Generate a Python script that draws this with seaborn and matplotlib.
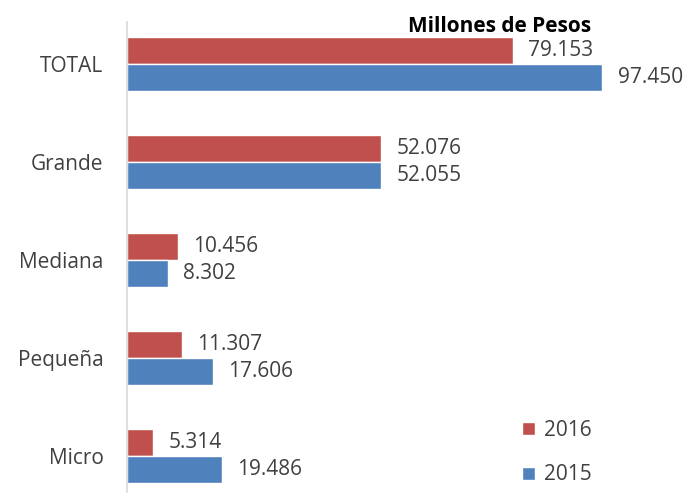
import numpy as np
import pandas as pd
import matplotlib
matplotlib.use('Agg')
import matplotlib.pyplot as plt
import seaborn as sns

# data
categorias = ['TOTAL', 'Grande', 'Mediana', 'Pequeña', 'Micro']
valores_2016 = [79.153, 52.076, 10.456, 11.307, 5.314]
valores_2015 = [97.450, 52.055, 8.302, 17.606, 19.486]
anios = ['2016', '2015']
colores = ['#C0504D', '#4F81BD']

df = pd.DataFrame({
    'categoria': categorias * 2,
    'valor': valores_2016 + valores_2015,
    'anio': ['2016'] * len(categorias) + ['2015'] * len(categorias),
})

sns.set_theme(style='white')
plt.rcParams['font.family'] = ['Open Sans', 'DejaVu Sans']

fig = plt.figure(figsize=(6.93, 4.95), dpi=100)
ax = fig.add_axes([127 / 693, 3 / 495, 1 - 127 / 693, 470 / 495])

sns.barplot(data=df, y='categoria', x='valor', hue='anio',
            hue_order=anios, palette=colores, order=categorias,
            orient='h', width=0.55, saturation=1, ax=ax)

ax.set_xlim(0, 116)
ax.set_ylim(4.37, -0.43)

# etiquetas de valor a la derecha de cada barra
for cont in ax.containers:
    ax.bar_label(cont, labels=[f'{v:.3f}' for v in cont.datavalues],
                 padding=11, fontsize=15, color='#404040')

ax.set_xlabel('')
ax.set_ylabel('')
ax.set_xticks([])
ax.tick_params(axis='y', length=0, pad=17, labelsize=15, labelcolor='#404040')
for s in ['top', 'right', 'bottom']:
    ax.spines[s].set_visible(False)
ax.spines['left'].set_color('#D9D9D9')
ax.spines['left'].set_linewidth(1.2)

fig.text(500 / 693, 1 - 32 / 495, 'Millones de Pesos', ha='center',
         va='baseline', fontsize=15, fontweight='bold', color='black')

ax.legend(loc='center left', bbox_to_anchor=(522 / 693, 1 - 452.5 / 495),
          bbox_transform=fig.transFigure, frameon=False, borderpad=0,
          borderaxespad=0, fontsize=15, labelcolor='#404040',
          handlelength=0.6, handleheight=0.6, handletextpad=0.45,
          labelspacing=1.15)

fig.savefig('out.png', dpi=100)
